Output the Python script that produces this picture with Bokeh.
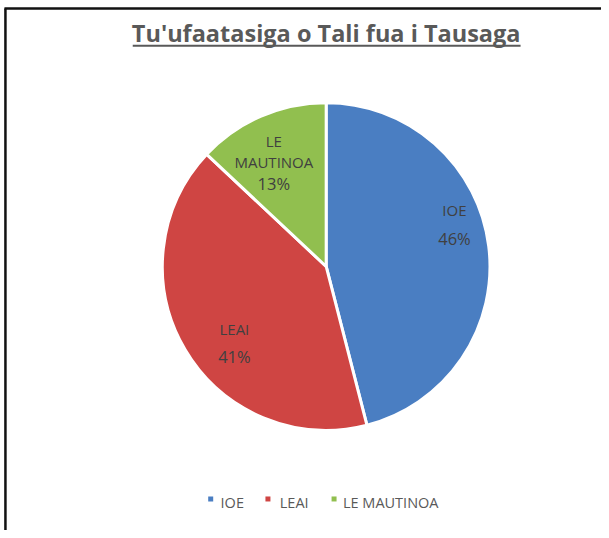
import math
from bokeh.plotting import figure
from bokeh.models import Range1d
from bokeh.embed import file_html
from bokeh.resources import INLINE
from bokeh.core.properties import value

# ---- data ----
categories = ["IOE", "LEAI", "LE MAUTINOA"]
shares = [46, 41, 13]
colors = ["#4A7EC2", "#CF4543", "#91BF4F"]
title_text = "Tu'ufaatasiga o Tali fua i Tausaga"

# ---- layout (reference-image pixel coords; y flipped for bokeh) ----
W, H = 601, 530
REF_W, REF_H = 609, 538
def Y(img_y):
    return REF_H - img_y

CX, CY, R = 330, Y(270), 166
FONT = "Open Sans"
GRAY = "#595959"
LABEL_GRAY = "#404040"

p = figure(width=W, height=H, x_range=Range1d(0, REF_W), y_range=Range1d(0, REF_H),
           output_backend="svg", toolbar_location=None,
           x_axis_location=None, y_axis_location=None, min_border=0)
p.grid.visible = False
p.outline_line_color = None
p.background_fill_color = "white"
p.border_fill_color = "white"

# border lines (top & left)
p.segment(x0=[4], y0=[Y(8)], x1=[REF_W], y1=[Y(8)], line_color="#111111", line_width=2.5)
p.segment(x0=[5], y0=[Y(8)], x1=[5], y1=[Y(REF_H)], line_color="#111111", line_width=2.5)

# pie wedges
total = sum(shares)
starts, ends = [], []
cum = 0.0
for s in shares:
    starts.append(math.pi / 2 - 2 * math.pi * cum / total)
    cum += s
    ends.append(math.pi / 2 - 2 * math.pi * cum / total)

p.wedge(x=[CX] * len(shares), y=[CY] * len(shares), radius=R,
        start_angle=starts, end_angle=ends, direction="clock",
        fill_color=colors, line_color="white", line_width=3)

# data labels (category name lines + percentage line)
label_layout = [
    [(460, 213), (460, 242)],
    [(237, 333), (237, 361)],
    [(277, 143), (277, 164), (277, 186)],
]
nx, ny, nt = [], [], []
px, py, pt = [], [], []
for i, cat in enumerate(categories):
    words = cat.split(" ")
    lines = words if len(label_layout[i]) - 1 == len(words) else [cat]
    for (x, y), t in zip(label_layout[i][:-1], lines):
        nx.append(x); ny.append(Y(y)); nt.append(t)
    x, y = label_layout[i][-1]
    px.append(x); py.append(Y(y)); pt.append(f"{shares[i]}%")
p.text(x=nx, y=ny, text=nt, text_align="center", text_baseline="middle",
       text_font=value(FONT), text_font_size="15px", text_color=LABEL_GRAY)
p.text(x=px, y=py, text=pt, text_align="center", text_baseline="middle",
       text_font=value(FONT), text_font_size="16.5px", text_color=LABEL_GRAY)

# title with underline
p.text(x=[330], y=[Y(33)], text=[title_text], text_align="center", text_baseline="middle",
       text_font=value(FONT), text_font_style="bold", text_font_size="23.5px", text_color=GRAY)
p.segment(x0=[134], y0=[Y(46)], x1=[527], y1=[Y(46)], line_color=GRAY, line_width=2)

# legend
leg_sq_x = [213, 271, 338]
leg_tx_x = [223, 283, 347]
p.scatter(x=leg_sq_x, y=[Y(506)] * 3, marker="square", size=5,
          fill_color=colors, line_color=None)
p.text(x=leg_tx_x, y=[Y(510)] * 3, text=categories, text_align="left", text_baseline="middle",
       text_font=value(FONT), text_font_size="14.5px", text_color=GRAY)

open("out.html", "w").write(file_html(p, INLINE))
